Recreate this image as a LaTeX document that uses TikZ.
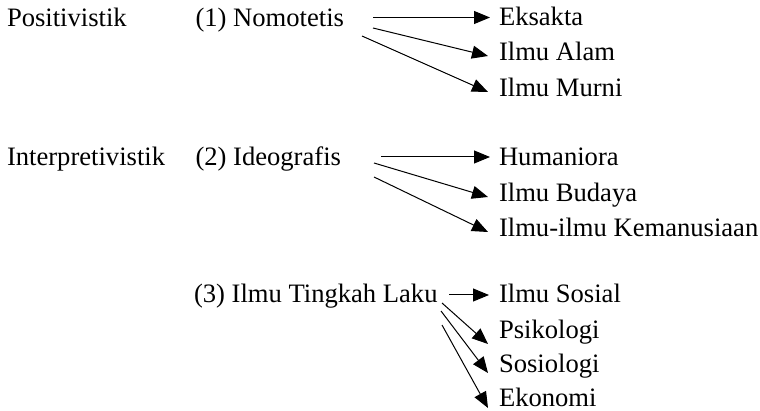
\documentclass[tikz,border=0pt]{standalone}
\usepackage{fontspec}
\setmainfont{Liberation Serif}
\usetikzlibrary{arrows.meta}
\begin{document}
\begin{tikzpicture}[x=1pt,y=-1pt,
  lbl/.style={anchor=base west,inner sep=0pt,outer sep=0pt,
    font=\fontsize{26.6}{30}\selectfont},
  link/.style={line width=1pt,-{Triangle[length=16pt,width=13pt]}}]
\useasboundingbox (0,0) rectangle (760,411);

% paradigms and their groups
\node[lbl] (pos)  at (7,27)   {Positivistik};
\node[lbl] (nom)  at (195.5,27) {(1) Nomotetis};
\node[lbl] (int)  at (7,166)  {Interpretivistik};
\node[lbl] (ide)  at (195.5,166) {(2) Ideografis};
\node[lbl] (itl)  at (194,303) {(3) Ilmu Tingkah Laku};

% fields
\node[lbl] (eks) at (499,26)  {Eksakta};
\node[lbl] (ial) at (499,61)  {Ilmu Alam};
\node[lbl] (imu) at (499,96.5){Ilmu Murni};
\node[lbl] (hum) at (499,166) {Humaniora};
\node[lbl] (ibu) at (499,202) {Ilmu Budaya};
\node[lbl] (ikm) at (499,237) {Ilmu-ilmu Kemanusiaan};
\node[lbl] (iso) at (499,303) {Ilmu Sosial};
\node[lbl] (psi) at (499,338) {Psikologi};
\node[lbl] (sos) at (499,372) {Sosiologi};
\node[lbl] (eko) at (499,406) {Ekonomi};

% arrow ends
\coordinate (n1) at (373,17.5); \coordinate (t1) at (490,17.5);
\coordinate (n2) at (373,28);   \coordinate (t2) at (488,56);
\coordinate (n3) at (362,36);   \coordinate (t3) at (488,92);
\coordinate (d1) at (381,157);  \coordinate (u1) at (490,157);
\coordinate (d2) at (374,163);  \coordinate (u2) at (488,197);
\coordinate (d3) at (374,177);  \coordinate (u3) at (488,232);
\coordinate (b1) at (449,295);  \coordinate (s1) at (489,295);
\coordinate (b2) at (442,303);  \coordinate (s2) at (488,344);
\coordinate (b3) at (441,311);  \coordinate (s3) at (488,373);
\coordinate (b4) at (442,325);  \coordinate (s4) at (488,408);

\draw[link] (n1) -- (t1);
\draw[link] (n2) -- (t2);
\draw[link] (n3) -- (t3);
\draw[link] (d1) -- (u1);
\draw[link] (d2) -- (u2);
\draw[link] (d3) -- (u3);
\draw[link] (b1) -- (s1);
\draw[link] (b2) -- (s2);
\draw[link] (b3) -- (s3);
\draw[link] (b4) -- (s4);
\end{tikzpicture}
\end{document}
